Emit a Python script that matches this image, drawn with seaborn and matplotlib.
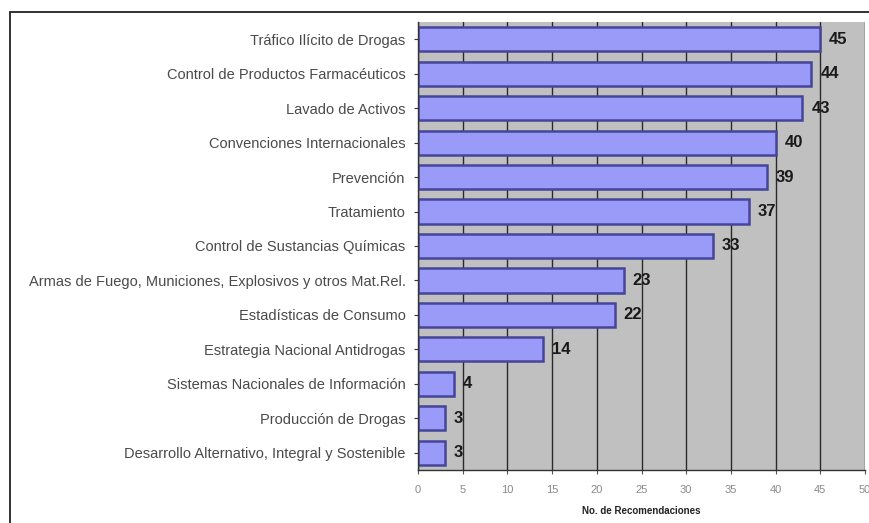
import matplotlib
matplotlib.use("Agg")
import matplotlib.pyplot as plt
import seaborn as sns
import pandas as pd
from matplotlib.patches import Rectangle

categorias = [
    "Tráfico Ilícito de Drogas",
    "Control de Productos Farmacéuticos",
    "Lavado de Activos",
    "Convenciones Internacionales",
    "Prevención",
    "Tratamiento",
    "Control de Sustancias Químicas",
    "Armas de Fuego, Municiones, Explosivos y otros Mat.Rel.",
    "Estadísticas de Consumo",
    "Estrategia Nacional Antidrogas",
    "Sistemas Nacionales de Información",
    "Producción de Drogas",
    "Desarrollo Alternativo, Integral y Sostenible",
]
recomendaciones = [45, 44, 43, 40, 39, 37, 33, 23, 22, 14, 4, 3, 3]
x_ticks = [0, 5, 10, 15, 20, 25, 30, 35, 40, 45, 50]

df = pd.DataFrame({"categoria": categorias, "n": recomendaciones})

sns.set_style("white")
plt.rcParams["font.family"] = ["Liberation Sans", "DejaVu Sans"]

fig = plt.figure(figsize=(8.7, 5.23), dpi=100)
ax = fig.add_axes([418 / 870, 1 - 470 / 523, (865 - 418) / 870, (470 - 22) / 523])

sns.barplot(data=df, x="n", y="categoria", orient="h", color="#9A9AF8",
            edgecolor="#45459A", linewidth=1.8, width=0.7, saturation=1, ax=ax)

ax.set_facecolor("#C0C0C0")
ax.set_xlim(0, 50)
ax.set_xticks(x_ticks)
ax.xaxis.grid(True, color="#2a2a2a", linewidth=1.0)
ax.set_axisbelow(True)
for s in ["top", "right"]:
    ax.spines[s].set_visible(False)
for s in ["left", "bottom"]:
    ax.spines[s].set_color("#333333")
    ax.spines[s].set_linewidth(1.0)

ax.tick_params(axis="x", labelsize=8, color="#555555", length=3, labelcolor="#8a8a8a", pad=8)
ax.tick_params(axis="y", labelsize=10.5, length=3, color="#333333", labelcolor="#4a4a4a", pad=6)
ax.tick_params(axis="both", which="both", left=True, bottom=True)
ax.set_ylabel("")
ax.set_xlabel("No. de Recomendaciones", fontsize=7, fontweight="bold", color="#222222", labelpad=8)

for i, v in enumerate(recomendaciones):
    ax.text(v + 1.0, i, str(v), va="center", ha="left", fontsize=12,
            fontweight="bold", color="#1a1a1a")

fig.patches.append(Rectangle((10 / 870, -0.1), 1.2, 1 - 12 / 523 + 0.1,
                             transform=fig.transFigure, fill=False,
                             edgecolor="#222222", linewidth=1.3, clip_on=False))

fig.savefig("out.png", dpi=100, facecolor="white")
